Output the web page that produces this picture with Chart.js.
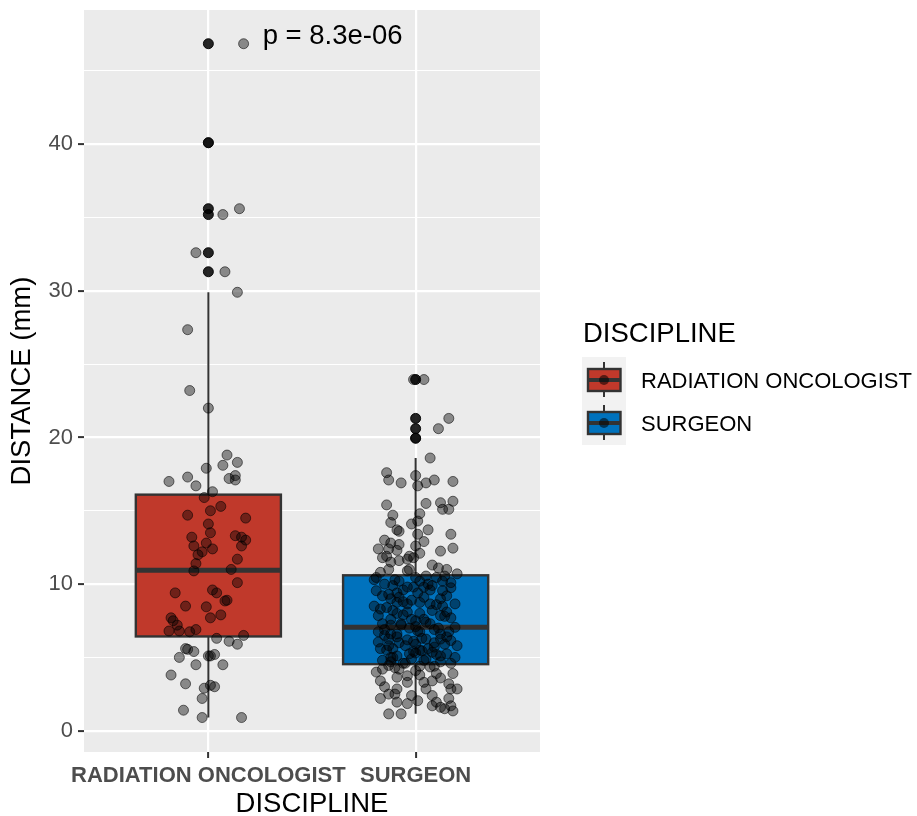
<!DOCTYPE html>
<html>
<head>
<meta charset="utf-8">
<script src="https://cdn.jsdelivr.net/npm/chart.js@4"></script>
<style>
  html, body { margin: 0; padding: 0; background: #fff; }
</style>
</head>
<body>
<canvas id="myChart" width="917" height="816"></canvas>
<script>
var categories = ['RADIATION ONCOLOGIST', 'SURGEON'];
var boxColors = ['#c0392b', '#0072bd'];

// box statistics per category
var q1 = [6.43, 4.54];
var median = [10.95, 7.05];
var q3 = [16.1, 10.6];
var whiskerLow = [0.9, 1.15];
var whiskerHigh = [29.9, 18.6];
var radOutliers = [46.85, 40.1, 35.6, 35.2, 32.6, 31.3];
var surgOutliers = [23.95, 21.3, 20.6, 19.95];

// jittered raw points: value and horizontal jitter (category units)
var radValues = [
  46.85, 40.1, 35.6, 35.2, 32.6, 31.3, 29.9, 27.35, 23.2, 22.0,
  18.8, 18.3, 18.1, 17.9, 17.3, 17.0, 17.4, 17.2, 17.1, 16.7,
  16.3, 15.9, 15.3, 15.0, 14.7, 14.5, 14.1, 13.5, 13.2, 13.3,
  13.2, 13.0, 12.8, 12.6, 12.6, 12.4, 12.2, 12.0, 11.7, 11.4,
  10.9, 11.0, 10.1, 9.4, 9.6, 9.4, 8.9, 8.85, 8.5, 8.45,
  7.9, 7.7, 7.7, 7.5, 7.2, 6.8, 6.8, 6.75, 6.9, 6.5,
  6.3, 6.1, 5.9, 5.6, 5.55, 5.4, 5.0, 5.1, 5.1, 5.2,
  4.5, 4.5, 3.8, 3.2, 3.1, 3.0, 2.9, 2.2, 1.4, 0.9,
  0.9
];
var radJitter = [
  0.17, 0.00, 0.15, 0.07, -0.06, 0.08, 0.14, -0.10, -0.09, 0.00,
  0.09, 0.14, 0.07, -0.01, -0.10, -0.19, 0.13, 0.10, 0.13, -0.06,
  0.02, -0.02, 0.06, 0.01, -0.10, 0.18, 0.00, 0.01, -0.08, 0.13,
  0.16, 0.18, -0.01, -0.07, 0.16, 0.02, -0.03, -0.05, 0.14, -0.06,
  -0.07, 0.11, 0.14, -0.16, 0.02, 0.04, 0.09, 0.08, -0.11, -0.01,
  0.06, 0.01, -0.18, -0.17, -0.15, -0.19, -0.14, -0.09, -0.06, 0.17,
  0.04, 0.10, 0.14, -0.11, -0.10, -0.07, -0.14, 0.00, 0.01, 0.03,
  -0.06, 0.07, -0.18, -0.11, 0.01, 0.03, -0.02, -0.03, -0.12, -0.03,
  0.16
];
var surgValues = [
  23.95, 23.95, 21.3, 20.6, 19.95, 18.6, 17.6, 17.1, 16.9, 17.4,
  16.7, 16.9, 17.1, 17.0, 15.4, 15.5, 15.55, 15.65, 15.1, 15.1,
  14.7, 14.8, 14.2, 14.1, 14.3, 13.7, 13.7, 13.6, 13.4, 13.4,
  13.0, 12.8, 12.7, 12.9, 12.4, 12.4, 12.3, 12.6, 12.1, 12.25,
  12.45, 11.9, 11.9, 11.8, 11.5, 11.0, 11.6, 11.7, 11.8, 11.0,
  10.9, 11.1, 11.0, 10.7, 10.45, 10.8, 10.3, 10.2, 10.45, 10.2,
  10.55, 10.45, 10.55, 10.1, 10.0, 9.9, 9.8, 9.8, 9.9, 9.55,
  9.55, 9.75, 9.3, 9.4, 9.1, 9.2, 8.5, 8.3, 8.75, 8.65,
  8.75, 8.65, 8.5, 8.65, 7.85, 8.0, 7.6, 8.0, 7.6, 7.85,
  7.7, 7.3, 7.3, 7.3, 7.05, 6.75, 6.6, 6.75, 6.6, 6.75,
  6.05, 6.25, 6.4, 5.8, 5.9, 6.25, 6.25, 6.15, 5.8, 5.6,
  5.6, 5.25, 5.45, 5.35, 5.25, 5.0, 4.0, 4.2, 4.45, 3.4,
  3.65, 3.75, 4.2, 4.1, 4.35, 3.9, 3.9, 3.3, 3.3, 3.4,
  3.2, 2.85, 2.85, 2.85, 2.5, 2.5, 2.4, 2.4, 2.2, 1.95,
  1.85, 1.7, 1.6, 2.2, 1.5, 1.35, 1.7, 1.15, 1.15, 2.05,
  2.85, 1.95, 10.3, 9.6, 9.0, 8.9, 8.2, 7.9, 7.5, 7.2,
  7.0, 6.9, 6.5, 6.3, 6.0, 5.7, 5.5, 5.1, 4.9, 4.8,
  4.7, 4.6, 4.4, 4.3, 5.9, 6.9, 9.2, 10.0, 11.3, 8.1,
  5.3, 4.9, 3.6, 3.0, 4.6, 5.0, 4.6, 4.8, 5.0, 5.2,
  5.4, 5.6, 5.8, 6.0, 6.2, 6.4, 6.6, 6.8, 7.0, 7.2,
  7.4, 7.6, 7.8, 8.2, 8.4, 8.6, 8.8, 9.0, 9.4, 9.6,
  9.8, 10.2, 4.7, 5.1, 5.5, 6.1, 7.1, 8.1, 9.1, 4.4,
  3.8
];
var surgJitter = [
  0.04, -0.01, 0.16, 0.11, 0.00, 0.07, -0.14, -0.13, -0.07, 0.00,
  0.01, 0.05, 0.09, 0.18, -0.14, 0.05, 0.12, 0.18, 0.13, 0.16,
  -0.11, 0.02, -0.12, -0.02, 0.01, 0.06, -0.09, -0.08, 0.17, 0.01,
  -0.15, -0.12, -0.08, 0.04, -0.18, -0.13, -0.09, 0.00, 0.02, 0.12,
  0.18, -0.03, -0.14, -0.16, -0.12, -0.13, -0.08, -0.04, -0.01, -0.03,
  -0.04, 0.11, 0.15, 0.20, -0.19, -0.17, -0.20, -0.08, 0.00, 0.02,
  0.05, 0.10, 0.14, 0.17, -0.15, -0.11, -0.01, 0.04, 0.08, -0.19,
  0.13, 0.17, -0.13, 0.01, 0.04, 0.15, -0.20, -0.17, -0.09, -0.04,
  0.02, 0.07, 0.13, 0.19, -0.18, -0.09, -0.12, 0.02, 0.04, 0.12,
  0.17, -0.16, -0.07, 0.07, 0.19, -0.18, -0.09, 0.02, 0.12, 0.16,
  -0.18, -0.13, -0.09, -0.05, 0.00, 0.05, 0.12, 0.17, 0.20, -0.17,
  -0.11, -0.03, 0.03, 0.08, 0.15, 0.19, -0.19, -0.16, -0.13, -0.17,
  -0.09, -0.04, -0.08, 0.00, 0.07, 0.10, 0.18, -0.04, 0.04, 0.08,
  0.16, 0.17, 0.20, -0.09, -0.10, -0.13, -0.02, 0.08, -0.17, -0.09,
  -0.04, 0.08, 0.12, 0.16, 0.14, 0.18, 0.17, -0.13, -0.07, 0.01,
  0.05, 0.10, -0.10, -0.06, -0.12, -0.02, -0.11, -0.06, 0.00, -0.12,
  -0.03, 0.09, -0.15, 0.03, -0.08, 0.09, -0.14, -0.09, 0.05, -0.16,
  0.12, -0.05, 0.02, -0.10, 0.14, -0.15, -0.16, 0.06, 0.08, 0.15,
  0.00, -0.02, 0.12, -0.15, 0.17, -0.12, -0.06, 0.04, -0.11, 0.10,
  -0.01, 0.06, -0.13, 0.09, -0.04, 0.15, -0.12, 0.01, 0.11, -0.07,
  0.05, -0.02, 0.14, 0.08, -0.14, 0.10, -0.06, 0.12, -0.09, 0.07,
  -0.04, 0.13, -0.12, 0.12, 0.02, -0.01, 0.00, -0.04, -0.08, 0.09,
  0.02
];

var yTicks = [0, 5, 10, 15, 20, 25, 30, 35, 40, 45];
var yTickLabels = ['0', '', '10', '', '20', '', '30', '', '40', ''];
var pText = 'p = 8.3e-06';
var pAt = { x: 1.262, y: 46.8 };

var FONT = '"Liberation Sans", Arial, Helvetica, sans-serif';
Chart.defaults.font.family = FONT;

function toPoints(values, jitter, center) {
  return values.map(function(v, i) { return { x: center + jitter[i], y: v }; });
}
function outlierPoints(values, center) {
  return values.map(function(v) { return { x: center, y: v }; });
}

var BOX_HALF = 0.35;

var ggPlugin = {
  id: 'ggstyle',
  beforeDraw: function(chart) {
    var a = chart.chartArea, c = chart.ctx;
    c.save();
    c.fillStyle = '#ebebeb';
    c.fillRect(a.left, a.top, a.right - a.left, a.bottom - a.top);
    c.restore();
  },
  beforeDatasetsDraw: function(chart) {
    var c = chart.ctx, xs = chart.scales.x, ys = chart.scales.y;
    c.save();
    categories.forEach(function(cat, i) {
      var cx = xs.getPixelForValue(i + 1);
      var l = xs.getPixelForValue(i + 1 - BOX_HALF);
      var r = xs.getPixelForValue(i + 1 + BOX_HALF);
      var yq1 = ys.getPixelForValue(q1[i]);
      var yq3 = ys.getPixelForValue(q3[i]);
      var ym = ys.getPixelForValue(median[i]);
      c.strokeStyle = '#333333';
      c.lineWidth = 2;
      c.beginPath();
      c.moveTo(cx, ys.getPixelForValue(whiskerLow[i]));
      c.lineTo(cx, yq1);
      c.moveTo(cx, yq3);
      c.lineTo(cx, ys.getPixelForValue(whiskerHigh[i]));
      c.stroke();
      c.fillStyle = boxColors[i];
      c.fillRect(l, yq3, r - l, yq1 - yq3);
      c.lineWidth = 2.4;
      c.strokeRect(l, yq3, r - l, yq1 - yq3);
      c.lineWidth = 5;
      c.beginPath();
      c.moveTo(l, ym);
      c.lineTo(r, ym);
      c.stroke();
    });
    c.restore();
  },
  afterDraw: function(chart) {
    var c = chart.ctx, xs = chart.scales.x, ys = chart.scales.y;
    c.save();
    // p-value label
    c.fillStyle = '#000';
    c.font = '27.5px ' + FONT;
    c.textAlign = 'left';
    c.textBaseline = 'alphabetic';
    c.fillText(pText, xs.getPixelForValue(pAt.x), ys.getPixelForValue(pAt.y));

    // legend
    c.font = '27.5px ' + FONT;
    c.fillText('DISCIPLINE', 583, 342);
    c.fillStyle = '#f2f2f2';
    c.fillRect(582, 357, 44, 88);
    categories.forEach(function(cat, i) {
      var cy = 380 + i * 43;
      c.strokeStyle = '#333333';
      c.lineWidth = 2;
      c.beginPath();
      c.moveTo(604, cy - 18);
      c.lineTo(604, cy + 17);
      c.stroke();
      c.fillStyle = boxColors[i];
      c.fillRect(588, cy - 11, 32.5, 22);
      c.lineWidth = 2.4;
      c.strokeRect(588, cy - 11, 32.5, 22);
      c.lineWidth = 4;
      c.beginPath();
      c.moveTo(588, cy);
      c.lineTo(620.5, cy);
      c.stroke();
      c.fillStyle = 'rgba(0,0,0,0.55)';
      c.beginPath();
      c.arc(604, cy, 5, 0, Math.PI * 2);
      c.fill();
      c.fillStyle = '#000';
      c.font = '22px ' + FONT;
      c.fillText(cat, 641, cy + 8);
    });
    c.restore();
  }
};

var ctx = document.getElementById('myChart').getContext('2d');
var config = {
  type: 'scatter',
  data: {
    datasets: [
      {
        label: categories[0],
        data: toPoints(radValues, radJitter, 1),
        backgroundColor: 'rgba(0,0,0,0.42)',
        borderColor: 'rgba(0,0,0,0.55)',
        borderWidth: 1,
        pointRadius: 5,
        order: 0
      },
      {
        label: categories[1],
        data: toPoints(surgValues, surgJitter, 2),
        backgroundColor: 'rgba(0,0,0,0.42)',
        borderColor: 'rgba(0,0,0,0.55)',
        borderWidth: 1,
        pointRadius: 5,
        order: 0
      },
      {
        label: 'outliers',
        data: outlierPoints(radOutliers, 1).concat(outlierPoints(surgOutliers, 2)),
        backgroundColor: 'rgba(0,0,0,0.85)',
        borderColor: 'rgba(0,0,0,0.9)',
        borderWidth: 1,
        pointRadius: 5,
        order: 1
      }
    ]
  },
  options: {
    responsive: false,
    animation: false,
    events: [],
    layout: { padding: { top: 10, right: 377, left: 0, bottom: 0 } },
    plugins: {
      legend: { display: false },
      tooltip: { enabled: false }
    },
    scales: {
      x: {
        type: 'linear',
        min: 0.4,
        max: 2.6,
        afterBuildTicks: function(scale) {
          scale.ticks = categories.map(function(c, i) { return { value: i + 1 }; });
        },
        afterFit: function(scale) {
          scale.height = 64;
          scale.paddingLeft = 0;
          scale.paddingRight = 0;
        },
        ticks: {
          autoSkip: false,
          maxRotation: 0,
          padding: 5,
          color: '#4d4d4d',
          font: { size: 22, weight: 'bold' },
          callback: function(v, i) { return categories[i]; }
        },
        grid: {
          color: '#ffffff',
          lineWidth: 2.2,
          tickColor: '#333333',
          tickWidth: 2,
          tickLength: 6
        },
        border: { display: false },
        title: {
          display: true,
          text: 'DISCIPLINE',
          color: '#000',
          font: { size: 27.5, lineHeight: 0.85 },
          padding: { top: 0, bottom: 0 }
        }
      },
      y: {
        type: 'linear',
        min: -1.45,
        max: 49.15,
        afterBuildTicks: function(scale) {
          scale.ticks = yTicks.map(function(v) { return { value: v }; });
        },
        afterFit: function(scale) {
          scale.width = 84;
          scale.paddingTop = 0;
          scale.paddingBottom = 0;
        },
        ticks: {
          padding: 5,
          color: '#4d4d4d',
          font: { size: 22 },
          callback: function(v, i) { return yTickLabels[i]; }
        },
        grid: {
          color: '#ffffff',
          lineWidth: function(c) { return c.tick && c.tick.value % 10 === 0 ? 2.2 : 1.1; },
          tickColor: function(c) { return c.tick && c.tick.value % 10 === 0 ? '#333333' : 'rgba(0,0,0,0)'; },
          tickWidth: 2,
          tickLength: 6
        },
        border: { display: false },
        title: {
          display: true,
          text: 'DISTANCE (mm)',
          color: '#000',
          font: { size: 27.5 },
          padding: { top: 6, bottom: 0 }
        }
      }
    }
  },
  plugins: [ggPlugin]
};
var myChart = new Chart(ctx, config);
</script>
</body>
</html>
